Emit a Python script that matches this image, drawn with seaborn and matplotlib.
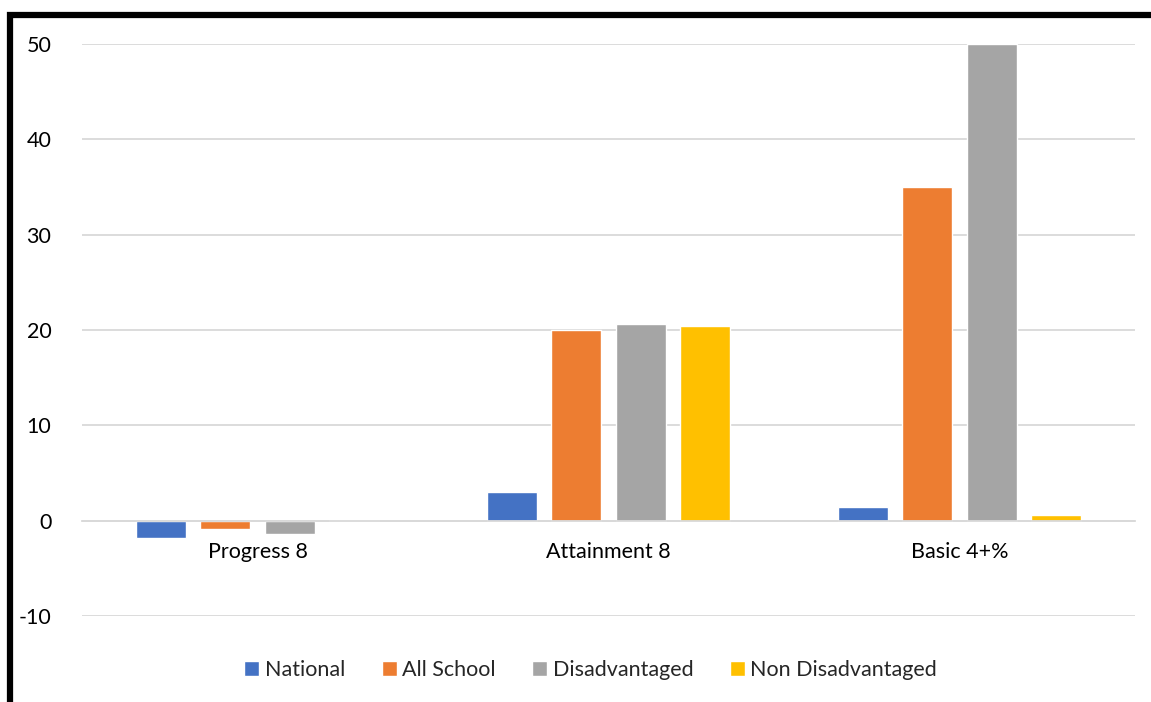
import pandas as pd
import seaborn as sb
import matplotlib.pyplot as plt
from matplotlib.patches import Rectangle

# Chart data
categories = ['Progress 8', 'Attainment 8', 'Basic 4+%']
series = ['National', 'All School', 'Disadvantaged', 'Non Disadvantaged']
national = [-1.8, 3.0, 1.4]
all_school = [-0.9, 20.0, 35.0]
disadvantaged = [-1.35, 20.6, 50.0]
non_disadvantaged = [0.1, 20.4, 0.6]
colors = ['#4472C4', '#ED7D31', '#A5A5A5', '#FFC000']

# Long-format table for seaborn
rows = []
for name, vals in zip(series, [national, all_school, disadvantaged, non_disadvantaged]):
    for cat, v in zip(categories, vals):
        rows.append({'Measure': cat, 'Group': name, 'Value': v})
df = pd.DataFrame(rows)

sb.set_style('white')
plt.rcParams['font.family'] = ['Lato', 'DejaVu Sans']
plt.rcParams['axes.unicode_minus'] = False

fig = plt.figure(figsize=(11.51, 7.02), dpi=100)
ax = fig.add_axes([82 / 1151, 1 - 616 / 702, (1135 - 82) / 1151, (616 - 44) / 702])

sb.barplot(data=df, x='Measure', y='Value', hue='Group', hue_order=series,
           palette=colors, width=0.73, gap=0.22, ax=ax, errorbar=None,
           saturation=1, legend=True)

ax.set_ylim(-10, 50)
ax.set_yticks(range(-10, 51, 10))
ax.set_xlim(-0.5, 2.5)
ax.yaxis.grid(True, color='#D9D9D9', linewidth=1.3)
ax.set_axisbelow(True)
ax.set_xlabel('')
ax.set_ylabel('')
for s in ['top', 'right', 'left']:
    ax.spines[s].set_visible(False)
ax.spines['bottom'].set_position(('data', 0))
ax.spines['bottom'].set_color('#D9D9D9')
ax.spines['bottom'].set_linewidth(1.3)
ax.tick_params(axis='both', length=0, labelsize=15.5, colors='black')
ax.tick_params(axis='y', pad=22)
ax.tick_params(axis='x', pad=15)

ax.legend(loc='center', bbox_to_anchor=(0.483, -0.094), ncol=4, frameon=False,
          fontsize=15.5, handlelength=0.7, handleheight=0.7, handletextpad=0.25,
          columnspacing=1.7)

# Thick black frame along top and left edge
fig.patches.append(Rectangle((10 / 1151, -0.1), 1.2, 1 - 14.5 / 702 + 0.1,
                             transform=fig.transFigure, fill=False,
                             edgecolor='black', linewidth=4.5))

fig.savefig('out.png', dpi=100)
